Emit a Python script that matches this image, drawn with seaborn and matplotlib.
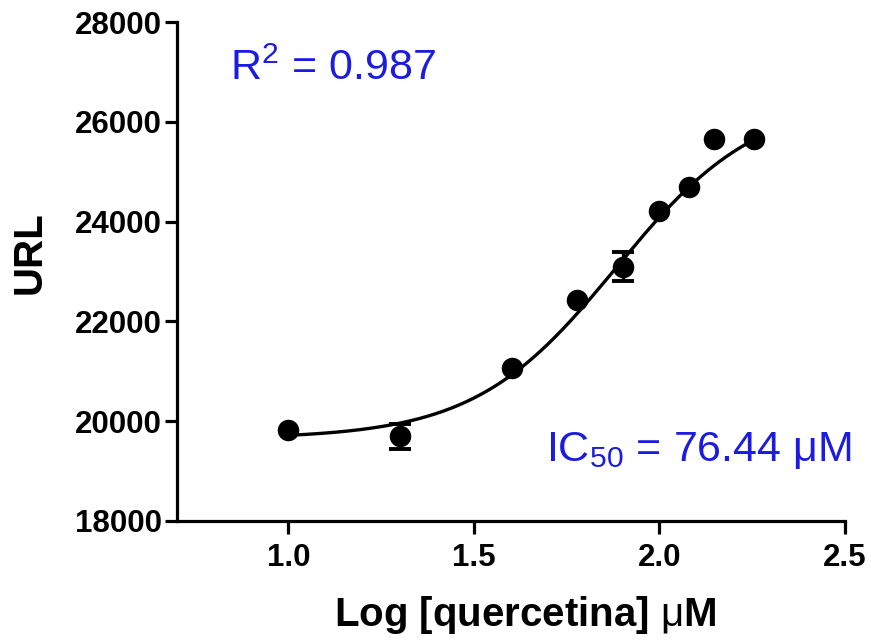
import numpy as np
import pandas as pd
import matplotlib
matplotlib.use("Agg")
import matplotlib.pyplot as plt
import seaborn as sns

# ---- data ----
log_conc = [1.000, 1.301, 1.602, 1.778, 1.903, 2.000, 2.079, 2.146, 2.255]
url_mean = [19830, 19700, 21070, 22430, 23100, 24220, 24700, 25650, 25660]
url_err = [0, 250, 0, 0, 300, 0, 0, 0, 0]   # bars hidden behind markers shown as 0

fit_bottom = 19650
fit_top = 26500
fit_logic50 = np.log10(76.44)
fit_hill = 2.27

r2_text = r"R$^{\mathrm{2}}$ = 0.987"
ic50_text = r"IC$_{\mathrm{50}}$ = 76.44 $\mathrm{\mu}$M"

x_ticks = [1.0, 1.5, 2.0, 2.5]
y_ticks = [18000, 20000, 22000, 24000, 26000, 28000]

sns.set_theme(style="ticks")
plt.rcParams["font.family"] = ["Liberation Sans", "DejaVu Sans"]
plt.rcParams["mathtext.fontset"] = "custom"
plt.rcParams["mathtext.rm"] = "Liberation Sans"
plt.rcParams["mathtext.it"] = "Liberation Sans:italic"
plt.rcParams["mathtext.bf"] = "Liberation Sans:bold"

fig = plt.figure(figsize=(8.71, 6.43), dpi=100)
ax = fig.add_axes([177 / 871, 1 - 521 / 643, (845 - 177) / 871, (521 - 22) / 643])

df = pd.DataFrame({"x": log_conc, "y": url_mean, "err": url_err})
df_err = df[df["err"] > 0]

xs = np.linspace(min(log_conc), max(log_conc), 300)
ys = fit_bottom + (fit_top - fit_bottom) / (1 + 10 ** ((fit_logic50 - xs) * fit_hill))
curve = pd.DataFrame({"x": xs, "y": ys})

sns.lineplot(data=curve, x="x", y="y", ax=ax, color="black", linewidth=2.4, zorder=2)
ax.errorbar(df_err["x"], df_err["y"], yerr=df_err["err"], fmt="none", ecolor="black",
            elinewidth=2.4, capsize=8, capthick=2.8, zorder=3)
sns.scatterplot(data=df, x="x", y="y", ax=ax, color="black", s=240,
                edgecolor="black", linewidth=0, zorder=4)

ax.set_xlim(0.7, 2.5)
ax.set_ylim(18000, 28000)
ax.set_xticks(x_ticks)
ax.set_xticklabels([f"{t:.1f}" for t in x_ticks])
ax.set_yticks(y_ticks)
ax.set_yticklabels([str(t) for t in y_ticks])

for side in ["top", "right"]:
    ax.spines[side].set_visible(False)
for side in ["left", "bottom"]:
    ax.spines[side].set_linewidth(2.3)
    ax.spines[side].set_color("black")

ax.tick_params(axis="both", direction="out", width=2.3, length=9, colors="black",
               labelsize=22.5)
ax.tick_params(axis="x", pad=7)
ax.tick_params(axis="y", pad=2)
for lab in ax.get_xticklabels() + ax.get_yticklabels():
    lab.set_fontweight("bold")

ax.set_xlabel(r"Log [quercetina] $\mathrm{\mu}$M", fontsize=29, fontweight="bold",
              color="black")
ax.set_ylabel("URL", fontsize=29, fontweight="bold", color="black")
ax.xaxis.set_label_coords((525 - 177) / (845 - 177), -(615 - 521) / (521 - 22), transform=ax.transAxes)
ax.yaxis.set_label_coords(-(177 - 30) / (845 - 177), (521 - 253) / (521 - 22), transform=ax.transAxes)
ax.xaxis.label.set_va("center")
ax.yaxis.label.set_va("center")

ax.text(0.843, 26840, r2_text, color="#1c1ce0", fontsize=31, ha="left", va="baseline")
ax.text(1.695, 19200, ic50_text, color="#1c1ce0", fontsize=31, ha="left", va="baseline")

ax.set_facecolor("white")
fig.patch.set_facecolor("white")
fig.savefig("out.png", dpi=100, facecolor="white")
